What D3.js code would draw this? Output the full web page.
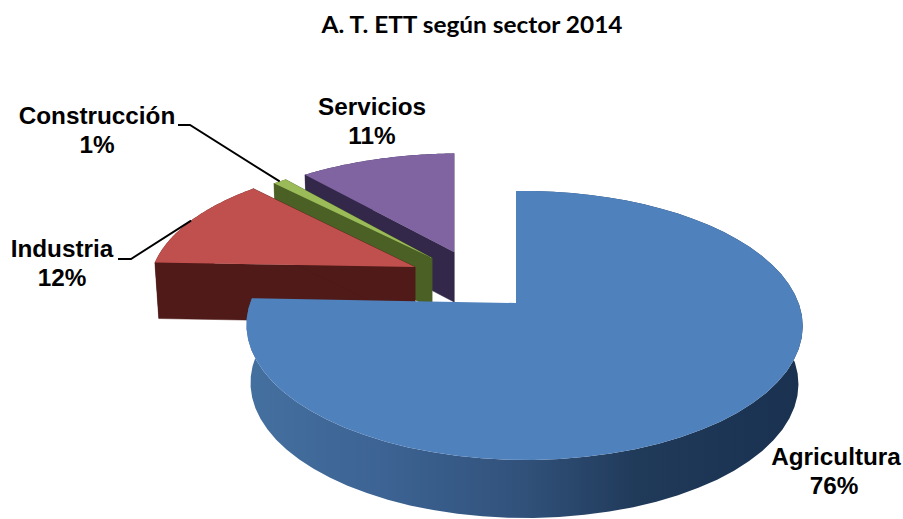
<!DOCTYPE html>
<html>
<head>
<meta charset="utf-8">
<script src="https://cdnjs.cloudflare.com/ajax/libs/d3/7.8.5/d3.min.js"></script>
<style>
  html, body { margin: 0; padding: 0; background: #fff; }
  text { fill: #000; }
  .title { font: bold 22px Lato, sans-serif; }
  .label { font: bold 24.3px "Liberation Sans", Arial, sans-serif; text-anchor: middle; }
  .leader { fill: none; stroke: #000; stroke-width: 1.9px; }
</style>
</head>
<body>
<div id="chart"></div>
<script>
var sectors = ["Agricultura", "Industria", "Construcción", "Servicios"];
var shares = [75.6, 12.4, 1.0, 11.0];
var shown = ["76%", "12%", "1%", "11%"];

var topColors = ["#4f81bd", "#c0504d", "#9bbb59", "#8064a2"];
var sideColors = ["url(#rimBlue)", "#4f1a18", "#4a6024", "#33284a"];

// where each exploded slice sits: apex, x/y shrink (perspective), extrusion
var apexX = [516, 415, 432, 454];
var apexY = [303, 267, 258, 252];
var shrinkX = [1, 0.985, 0.963, 0.98];
var shrinkY = [1, 0.94, 0.895, 0.88];
var depth = [58, 56, 50, 50];

// rough perspective of the pie plane
var persp = { a: 274, b: 130.7, k: 0.167, m: 0.0305, foot: 0.985 };

var width = 903, height = 519;

var svg = d3.select("#chart").append("svg")
    .attr("width", width)
    .attr("height", height)
    .style("display", "block");

var grad = svg.append("defs").append("linearGradient")
    .attr("id", "rimBlue")
    .attr("gradientUnits", "userSpaceOnUse")
    .attr("x1", 246).attr("x2", 803).attr("y1", 0).attr("y2", 0);

[[0, "#44709f"], [0.25, "#3c6393"], [0.5, "#31517a"], [0.7, "#203a5a"], [1, "#1a3150"]].forEach(function(s) {
  grad.append("stop").attr("offset", s[0]).attr("stop-color", s[1]);
});

var pie = d3.pie().sort(null)(shares);
var line = d3.line();

function rim(i, angle, bottom) {
  var u = Math.sin(angle), v = -Math.cos(angle);
  var w = 1 - persp.k * v - persp.m * u;
  var foot = bottom ? persp.foot : 1;
  return [
    apexX[i] + foot * shrinkX[i] * persp.a * u / w,
    apexY[i] + shrinkY[i] * persp.b * v / w + (bottom ? depth[i] : 0)
  ];
}

function arcPoints(i, d, bottom) {
  return d3.range(0, 61).map(function(n) {
    return rim(i, d.startAngle + (d.endAngle - d.startAngle) * n / 60, bottom);
  });
}

// painter's order, back slices first
[3, 2, 1, 0].forEach(function(i) {
  var d = pie[i];
  var top = arcPoints(i, d, false);
  var low = arcPoints(i, d, true);
  var apex = [apexX[i], apexY[i]];
  var apexLow = [apexX[i], apexY[i] + depth[i]];
  var g = svg.append("g").attr("class", "slice " + sectors[i]);

  if (i > 0) {
    g.append("path")
        .attr("d", line([apex, top[0], low[0], apexLow]) + "Z")
        .attr("fill", sideColors[i]).attr("stroke", sideColors[i]).attr("stroke-width", 0.5);
    g.append("path")
        .attr("d", line([apex, top[60], low[60], apexLow]) + "Z")
        .attr("fill", sideColors[i]).attr("stroke", sideColors[i]).attr("stroke-width", 0.5);
  }
  g.append("path")
      .attr("d", line(top.concat(low.slice().reverse())) + "Z")
      .attr("fill", sideColors[i]);
  g.append("path")
      .attr("d", line([apex].concat(top)) + "Z")
      .attr("fill", topColors[i]);
});

// leader lines start at the middle of the slice rim
var elbowInd = [[118, 259], [131, 259]];
var elbowCon = [[178, 125], [190, 125]];
svg.append("path").attr("class", "leader")
    .attr("d", line(elbowInd.concat([rim(1, (pie[1].startAngle + pie[1].endAngle) / 2, false)])));
svg.append("path").attr("class", "leader")
    .attr("d", line(elbowCon.concat([rim(2, (pie[2].startAngle + pie[2].endAngle) / 2, false)])));

svg.append("text").attr("class", "title")
    .attr("x", 472).attr("y", 33).attr("text-anchor", "middle")
    .attr("textLength", 301).attr("lengthAdjust", "spacingAndGlyphs")
    .text("A. T. ETT según sector 2014");

var labelX = [836, 62, 97, 372];
var labelY = [465, 257, 124, 115];
sectors.forEach(function(name, i) {
  svg.append("text").attr("class", "label").attr("x", labelX[i]).attr("y", labelY[i]).text(name);
  svg.append("text").attr("class", "label").attr("x", labelX[i] - (i === 0 ? 2 : 0)).attr("y", labelY[i] + 28.5).text(shown[i]);
});
</script>
</body>
</html>
